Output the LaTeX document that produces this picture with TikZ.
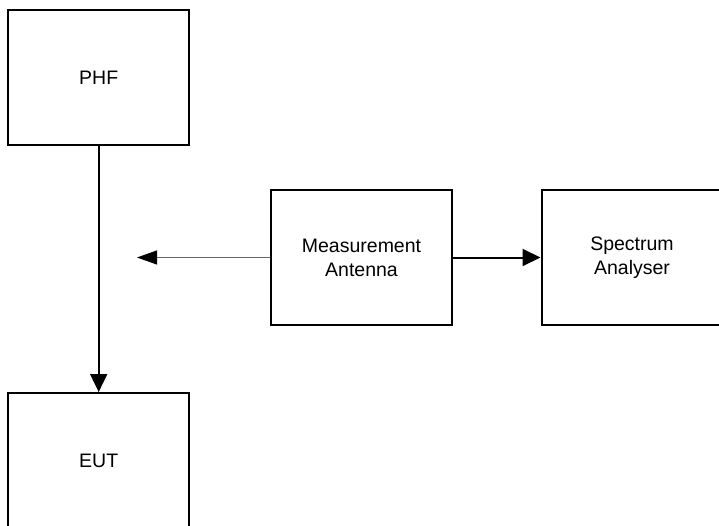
\documentclass[tikz,border=0pt]{standalone}
\usepackage{fontspec}
\setmainfont{Liberation Sans}
\usetikzlibrary{arrows.meta}

\tikzset{
    unit/.style={draw, line width=2pt, minimum width=181pt, minimum height=135pt,
        align=center, inner sep=0pt, font=\fontsize{19.5}{24}\selectfont},
    feed/.style={line width=2pt, -{Triangle[length=18pt, width=17pt]}},
}

\begin{document}
\begin{tikzpicture}[x=1pt, y=-1pt]
            \useasboundingbox (0, 0) rectangle (719, 525);
            \clip (0, 0) rectangle (719, 525);

            \node[unit] (phf) at (98.7, 77.5){PHF};
            \node[unit] (eut) at (98.7, 460.5){EUT};
            \node[unit] (ant) at (361.5, 257.5){Measurement\\Antenna};
            \node[unit] (sa) at (632, 257.5){Spectrum\\Analyser};
            \coordinate (free) at (137, 257.5);

            \draw[feed] (phf) -- (eut);
            \draw[feed] (ant) -- (sa);
            \draw[line width=1pt, color=gray!80!black, -{Triangle[length=20pt, width=14pt, color=black]}] (ant) -- (free);
        \end{tikzpicture}
\end{document}
